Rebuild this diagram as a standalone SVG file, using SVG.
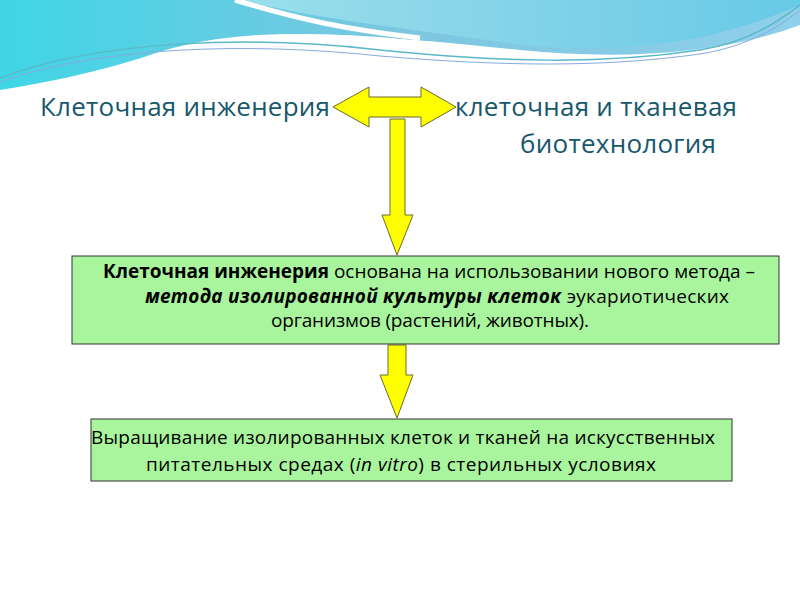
<svg xmlns="http://www.w3.org/2000/svg" width="800" height="600" viewBox="0 0 800 600">
<defs>
<linearGradient id="bg1" x1="0" y1="0" x2="1" y2="0"><stop offset="0" stop-color="#3fd6e6"/><stop offset="0.5" stop-color="#7cc6e0"/><stop offset="1" stop-color="#8fd0ea"/></linearGradient>
<linearGradient id="bg2" x1="0" y1="0" x2="1" y2="0"><stop offset="0" stop-color="#a8e4ee"/><stop offset="1" stop-color="#5ec8e6"/></linearGradient>
<style>
.arr{fill:#ffff00;stroke:#6b6b2a;stroke-width:1}
.box{fill:#a9f59e;stroke:#333;stroke-width:1}
.t{font-family:"Open Sans","Liberation Sans",sans-serif;fill:#000;font-size:19px}
.h{font-family:"Open Sans","Liberation Sans",sans-serif;fill:#17586c;font-size:26px}
</style>
</defs>
<rect width="800" height="600" fill="#fff"/>
<path d="M0,0 H235 C300,25 380,50 560,40 C640,36 720,30 800,0 Z" fill="url(#bg1)"/>
<path d="M0,0 H800 V25 C720,55 620,60 520,50 C380,36 250,20 150,55 C90,75 30,85 0,90 Z" fill="url(#bg1)"/>
<path d="M240,0 C320,20 420,30 520,45 C640,55 720,40 800,5 V0 Z" fill="url(#bg2)" opacity="0.8"/>
<path d="M235,0 C300,20 350,30 420,38" fill="none" stroke="#fff" stroke-width="5"/>
<path d="M0,78 C100,40 250,35 380,50 C500,62 600,65 700,50 C750,42 780,20 800,5" fill="none" stroke="#5bb8c8" stroke-width="1.5"/>
<path d="M0,82 C100,46 250,42 380,56 C500,66 600,68 700,54 C750,46 780,26 800,10" fill="none" stroke="#8ad" stroke-width="1"/>
<text class="h" x="40" y="116" textLength="290">Клеточная инженерия</text>
<text class="h" x="455" y="116" textLength="282">клеточная и тканевая</text>
<text class="h" x="520" y="153" textLength="196">биотехнология</text>
<g id="connectors">
<path class="arr" d="M333,107 L369,87 V97 H421 V87 L456,107 L421,127 V117 H369 V127 Z"/>
<path class="arr" d="M390,119 H405 V215 H413 L397,255 L382,215 H390 Z"/>
<path class="arr" d="M388,345 H406 V375 H413 L397,418 L380,375 H388 Z"/>
</g>
<g id="node1">
<rect class="box" x="72" y="256" width="707" height="88"/>
<text class="t" x="103" y="278" textLength="652"><tspan font-weight="bold">Клеточная инженерия</tspan> основана на использовании нового метода –</text>
<text class="t" x="145" y="303" textLength="584"><tspan font-weight="bold" font-style="italic">метода изолированной культуры клеток</tspan> эукариотических</text>
<text class="t" x="271" y="327" textLength="318">организмов (растений, животных).</text>
</g>
<g id="node2">
<rect class="box" x="91" y="419" width="641" height="62"/>
<text class="t" x="91" y="444" textLength="624">Выращивание изолированных клеток и тканей на искусственных</text>
<text class="t" x="146" y="471" textLength="510">питательных средах (<tspan font-style="italic">in vitro</tspan>) в стерильных условиях</text>
</g>
</svg>
